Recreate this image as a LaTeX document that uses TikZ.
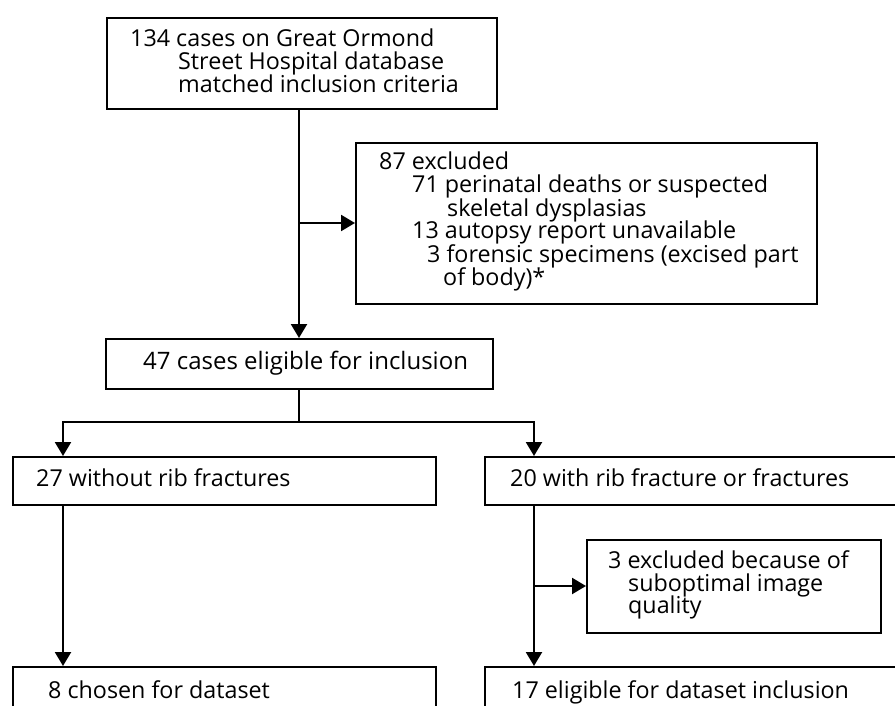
\documentclass[tikz,border=0pt]{standalone}
\usepackage{fontspec}
\setmainfont{Open Sans}
\usetikzlibrary{arrows.meta}
\begin{document}
\begin{tikzpicture}[x=1pt,y=1pt,
  box/.style={draw, line width=2.2pt, inner sep=0pt, anchor=north west},
  txt/.style={anchor=base west, inner sep=0pt, font=\fontsize{23.3}{27}\selectfont},
  conn/.style={line width=2.2pt},
  arr/.style={line width=2.2pt, -{Triangle[width=16pt,length=14pt]}}]
\useasboundingbox (0,0) rectangle (895,-706);
\clip (0,0) rectangle (895,-706);
% boxes
\node[box, minimum width=390pt, minimum height=91pt] (b134) at (106,-17) {};
\node[box, minimum width=461pt, minimum height=161pt] (b87) at (355,-142) {};
\node[box, minimum width=387pt, minimum height=50pt] (b47) at (105,-338) {};
\node[box, minimum width=423pt, minimum height=48pt] (b27) at (12,-456) {};
\node[box, minimum width=423pt, minimum height=48pt] (b20) at (484,-456) {};
\node[box, minimum width=294pt, minimum height=93pt] (b3) at (586,-539) {};
\node[box, minimum width=423pt, minimum height=80pt] (b8) at (12,-666) {};
\node[box, minimum width=423pt, minimum height=80pt] (b17) at (484,-666) {};
% texts
\node[txt] (t134a) at (130,-47) {134 cases on Great Ormond};
\node[txt] (t134b) at (178,-70) {Street Hospital database};
\node[txt] (t134c) at (178,-93) {matched inclusion criteria};
\node[txt] (t87) at (379,-170) {87 excluded};
\node[txt] (t71a) at (412,-193) {71 perinatal deaths or suspected};
\node[txt] (t71b) at (447,-216) {skeletal dysplasias};
\node[txt] (t13) at (412,-239) {13 autopsy report unavailable};
\node[txt] (t3fa) at (427,-262) {3 forensic specimens (excised part};
\node[txt] (t3fb) at (443,-285) {of body)*};
\node[txt, font=\fontsize{24}{28}\selectfont] (t47) at (143,-369) {47 cases eligible for inclusion};
\node[txt] (t27) at (36,-486) {27 without rib fractures};
\node[txt] (t20) at (510,-486) {20 with rib fracture or fractures};
\node[txt] (t3a) at (608,-568) {3 excluded because of};
\node[txt] (t3b) at (628,-591) {suboptimal image};
\node[txt] (t3c) at (628,-613) {quality};
\node[txt] (t8) at (48,-698) {8 chosen for dataset};
\node[txt] (t17) at (512,-698) {17 eligible for dataset inclusion};
% connectors
\draw[arr] (b134.south -| 299,0) -- (299,-338);
\draw[arr] (299,-223) -- (b87.west |- 0,-223);
\draw[conn] (b47.south -| 299,0) -- (299,-422) coordinate (split);
\draw[arr] (split) -| (63,-456);
\draw[arr] (split) -| (534,-456);
\draw[arr] (b27.south -| 63,0) -- (63,-666);
\draw[arr] (b20.south -| 534,0) -- (534,-666);
\draw[arr] (534,-586) -- (b3.west |- 0,-586);
\end{tikzpicture}
\end{document}
